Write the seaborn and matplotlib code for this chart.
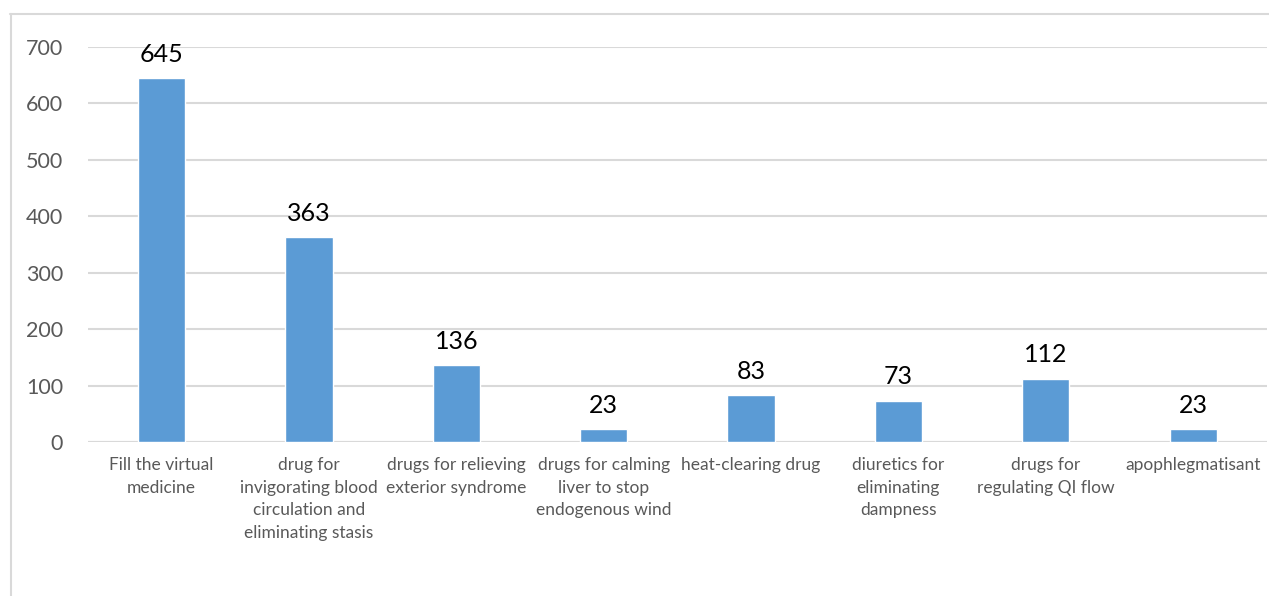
import matplotlib
matplotlib.use("Agg")
import matplotlib.pyplot as plt
from matplotlib.lines import Line2D
import seaborn as sns
import pandas as pd

categories = [
    "Fill the virtual\nmedicine",
    "drug for\ninvigorating blood\ncirculation and\neliminating stasis",
    "drugs for relieving\nexterior syndrome",
    "drugs for calming\nliver to stop\nendogenous wind",
    "heat-clearing drug",
    "diuretics for\neliminating\ndampness",
    "drugs for\nregulating QI flow",
    "apophlegmatisant",
]
counts = [645, 363, 136, 23, 83, 73, 112, 23]
y_ticks = [0, 100, 200, 300, 400, 500, 600, 700]

sns.set_theme(style="white")
plt.rcParams["font.family"] = ["Lato", "DejaVu Sans"]

df = pd.DataFrame({"category": categories, "count": counts})

fig = plt.figure(figsize=(12.69, 5.96), dpi=100)
ax = fig.add_axes([0.0693, 0.2584, 0.9290, 0.6627])

sns.barplot(data=df, x="category", y="count", color="#5B9BD5",
            saturation=1, width=0.32, ax=ax, zorder=3)

ax.set_ylim(0, 700)
ax.set_yticks(y_ticks)
ax.set_xlim(-0.5, len(categories) - 0.5)
ax.yaxis.grid(True, color="#d9d9d9", linewidth=1.5, zorder=0)
ax.xaxis.grid(False)
for s in ax.spines.values():
    s.set_visible(False)
ax.axhline(0, color="#d9d9d9", linewidth=1.5, zorder=2)

ax.set_xlabel("")
ax.set_ylabel("")
ax.tick_params(axis="y", labelsize=15.5, labelcolor="#595959", length=0, pad=18)
ax.tick_params(axis="x", labelsize=12.5, labelcolor="#595959", length=0, pad=11)
for lbl in ax.get_xticklabels():
    lbl.set_linespacing(1.5)
    lbl.set_horizontalalignment("center")

for i, v in enumerate(counts):
    ax.annotate(str(v), (i, v), xytext=(0, 9), textcoords="offset points",
                ha="center", va="bottom", fontsize=18, color="black")

# light frame along the top and left edges
fig.add_artist(Line2D([10 / 1269, 1.0], [1 - 14 / 596, 1 - 14 / 596],
                      transform=fig.transFigure, color="#d9d9d9", linewidth=1.5))
fig.add_artist(Line2D([11 / 1269, 11 / 1269], [0.0, 1 - 14 / 596],
                      transform=fig.transFigure, color="#d9d9d9", linewidth=1.5))

fig.savefig("out.png", dpi=100)
